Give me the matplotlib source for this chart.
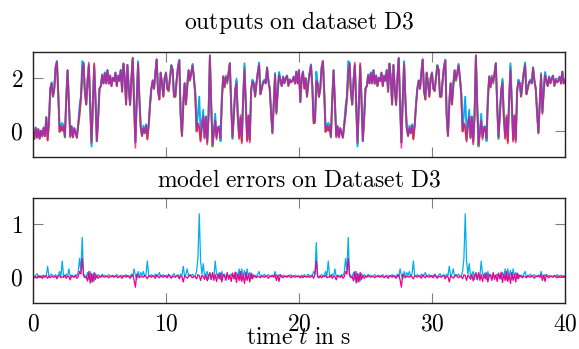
import numpy as np
import matplotlib
matplotlib.use("Agg")
import matplotlib.pyplot as plt
from matplotlib.ticker import FuncFormatter, FixedLocator

plt.rcParams["mathtext.fontset"] = "cm"
plt.rcParams["font.family"] = "DejaVu Serif"

# ---------------- data (sampled every 0.1 s) ----------------
dt = 0.1
n_samples = 401  # 0 ... 40 s

# true output: initial 1.2 s of the first period (t = 0.0 .. 1.1)
y_start = [0.05, -0.3, 0.1, -0.25, 0.05, -0.3, 0.0, -0.2, 0.1, -0.2, 0.5, -0.35]
# true output, one 20 s period from t = 1.2 .. 19.9
y_period = [
    0.3, 1.6, 1.8, 1.3, 1.6, 2.4, 2.65, 1.4,
    -0.05, 0.2, 0.0, 0.2, -0.25, 1.2, 2.3, 1.0, -0.2, 0.15,
    -0.25, 0.1, -0.1, -0.25, 0.2, 0.6, 1.2, 1.9, 2.55, 1.5,
    1.0, 1.9, 2.5, 1.0, -0.5, 1.0, 2.5, 1.2, -0.4, 0.5,
    1.6, 1.7, 2.1, 1.8, 2.2, 1.8, 2.3, 1.8, 2.1, 1.7,
    2.0, 1.9, 2.2, 1.7, 2.1, 1.9, 2.3, 1.5, 2.55, 2.0,
    1.0, 2.5, 1.6, 1.0, 2.0, 2.75, 1.0, -0.45, 1.2, 2.55,
    1.2, 0.1, -0.2, 0.1, -0.1, 0.2, -0.3, 0.2, 1.0, 1.6,
    1.9, 1.6, 2.2, 2.7, 1.5, 1.2, 2.2, 1.8, 1.3, 2.0,
    2.2, 1.6, 1.5, 2.0, 2.5, 2.3, 1.3, 1.3, 1.9, 2.4,
    2.7, 0.6, -0.2, 1.0, 1.8, 1.0, 1.7, 2.3, 1.9, 2.2,
    2.5, 2.0, 1.4, 0.0, 0.25, 0.1, -0.35, 0.2, 0.55, -0.25,
    0.5, -0.45, 0.6, 2.8, 1.0, -0.6, 0.0, 0.35, -0.25, 0.1,
    0.1, -0.35, 1.2, 2.05, 1.65, 2.1, 1.8, 2.2, 2.55, 1.0,
    -0.3, 0.6, 1.5, 1.9, 0.5, -0.25, 0.5, -0.4, 1.2, 2.45,
    1.0, -0.35, 0.55, -0.35, 1.5, 1.9, 1.8, 1.3, 1.8, 2.2,
    2.5, 1.4, 1.6, 1.85, 1.9, 1.8, 2.4, 1.9, 1.6, 0.7,
    -0.1, 1.0, 2.1, 0.7, 1.5, 2.2, 1.9, 1.7, 2.05, 1.8,
    2.0, 2.1, 1.7, 1.95, 1.85, 1.9, 2.05, 1.8, 2.25, 1.8,
]
# true output at the start of the second period (t = 20.0 .. 21.1)
y_restart = [2.3, 1.1, 2.0, 2.25, 1.6, 2.0, 1.3, 1.8, 2.2, 2.5, 1.7, 0.3]
y_end = [1.9]

# model error (cyan model), one period t = 0.0 .. 19.9
err_cyan_period = [
    0.02, 0.0, 0.03, 0.06, 0.01, 0.02, 0.0, 0.02, 0.03, 0.01,
    0.02, 0.2, 0.0, 0.03, 0.05, 0.0, 0.02, 0.04, 0.0, 0.03,
    0.1, 0.02, 0.3, 0.0, 0.02, 0.05, 0.0, 0.15, 0.0, 0.03,
    0.02, 0.0, 0.04, 0.02, 0.08, 0.35, 0.1, 0.75, 0.05, 0.02,
    0.0, 0.08, -0.05, 0.1, -0.1, 0.05, -0.08, 0.06, 0.0, 0.04,
    0.02, 0.0, 0.05, 0.01, 0.03, 0.0, 0.02, 0.04, 0.0, 0.02,
    0.03, 0.0, 0.02, 0.04, 0.01, 0.0, 0.03, 0.02, 0.0, 0.02,
    0.04, 0.0, 0.02, 0.0, 0.05, 0.0, 0.15, 0.02, -0.05, 0.1,
    0.0, 0.08, 0.02, 0.1, 0.0, 0.05, 0.3, 0.02, 0.0, 0.04,
    0.02, 0.0, 0.05, 0.0, 0.03, 0.08, 0.0, 0.02, 0.04, 0.0,
    0.03, 0.0, 0.05, 0.02, 0.0, 0.03, 0.06, 0.0, 0.02, 0.04,
    0.0, 0.05, 0.02, 0.2, 0.0, 0.05, 0.15, 0.0, 0.03, 0.02,
    0.05, 0.0, 0.02, 0.1, 0.35, 1.2, 0.3, 0.05, 0.25, 0.0,
    0.05, 0.1, -0.05, 0.08, -0.06, 0.05, 0.0, 0.3, 0.05, 0.0,
    0.08, -0.05, 0.1, 0.0, 0.05, -0.04, 0.06, 0.0, 0.03, 0.05,
    0.0, 0.03, -0.05, 0.08, 0.0, 0.15, -0.06, 0.15, 0.0, 0.12,
    -0.05, 0.15, 0.0, 0.08, -0.04, 0.05, 0.0, 0.03, 0.0, 0.05,
    0.1, 0.0, 0.03, 0.02, 0.05, 0.0, 0.02, 0.04, 0.0, 0.02,
    0.03, 0.0, 0.1, 0.02, 0.0, 0.04, 0.02, 0.0, 0.03, 0.01,
    0.02, 0.0, 0.03, 0.01, 0.04, 0.0, 0.02, 0.03, 0.0, 0.02,
]
# model error (magenta model), one period t = 0.0 .. 19.9
err_mag_period = [
    0.0, -0.02, 0.01, -0.03, 0.02, -0.01, 0.01, -0.03, 0.01, -0.01,
    0.02, -0.03, 0.01, -0.02, 0.01, 0.0, -0.01, 0.01, -0.04, 0.01,
    0.03, -0.02, 0.0, -0.01, 0.03, -0.03, 0.01, 0.0, -0.06, 0.02,
    0.0, -0.01, 0.02, -0.03, 0.0, 0.1, 0.05, 0.35, 0.02, -0.02,
    0.0, -0.08, 0.1, -0.12, 0.06, -0.1, 0.08, -0.05, 0.02, -0.03,
    0.01, -0.01, 0.02, 0.0, -0.01, 0.01, 0.0, -0.02, 0.01, 0.0,
    0.01, -0.01, 0.02, 0.0, -0.02, 0.01, 0.0, -0.03, 0.02, 0.01,
    -0.01, 0.02, 0.0, -0.03, 0.01, 0.04, -0.06, -0.2, 0.05, 0.01,
    -0.02, 0.01, 0.0, -0.01, 0.03, 0.0, -0.04, 0.02, 0.01, -0.01,
    0.02, 0.0, -0.03, 0.04, 0.0, -0.02, 0.03, 0.0, -0.01, 0.02,
    0.0, -0.02, 0.04, 0.0, -0.03, 0.01, 0.0, -0.01, 0.02, 0.01,
    -0.04, 0.01, 0.0, -0.1, 0.02, 0.0, -0.03, 0.01, 0.04, 0.0,
    -0.02, 0.01, 0.0, -0.04, 0.04, 0.02, -0.07, 0.03, 0.0, -0.05,
    0.04, -0.08, 0.03, 0.07, -0.05, 0.08, -0.07, 0.04, -0.09, 0.05,
    -0.04, 0.07, -0.1, 0.04, 0.02, -0.07, 0.08, -0.05, 0.03, -0.09,
    0.07, -0.04, 0.09, -0.11, 0.05, -0.07, 0.1, -0.09, 0.04, -0.13,
    0.08, -0.07, 0.05, -0.1, 0.07, -0.04, 0.03, 0.0, -0.02, 0.01,
    0.0, -0.02, 0.01, 0.0, -0.01, 0.02, 0.0, -0.03, 0.01, 0.0,
    0.02, -0.01, 0.04, -0.07, 0.03, -0.09, 0.04, 0.0, -0.02, 0.01,
    0.0, -0.01, 0.02, 0.0, -0.02, 0.01, 0.0, -0.01, 0.01, 0.0,
]
# errors at the start of the second period (t = 20.0 .. 21.9)
err_cyan_restart = [0.02, 0.0, 0.03, 0.01, 0.04, 0.0, 0.02, 0.05, 0.0, 0.03,
                    0.02, 0.1, 0.05, 0.65, 0.02, 0.0, 0.02, 0.04, 0.0, 0.03]
err_mag_restart = [0.0, -0.02, 0.01, -0.02, 0.01, 0.0, -0.01, 0.01, -0.01, 0.0,
                   0.02, -0.03, 0.05, 0.3, 0.0, -0.02, 0.01, -0.02, 0.01, 0.0]
err_cyan_end = [0.02]
err_mag_end = [0.0]

x_ticks = [0, 10, 20, 30, 40]
y_ticks_out = [0, 2]
y_ticks_err = [0, 1]

# ---------------- assemble series ----------------
t = np.arange(n_samples) * dt
y_true = np.array(y_start + y_period + y_restart + y_period + y_end)
err_cyan = np.array(err_cyan_period + err_cyan_restart + err_cyan_period[20:] + err_cyan_end)
err_mag = np.array(err_mag_period + err_mag_restart + err_mag_period[20:] + err_mag_end)
y_cyan = y_true + err_cyan
y_mag = y_true + err_mag

OLIVE = "#9e9800"
CYAN = "#00aeef"
MAG = "#ec008c"

W, H = 579, 349
fig = plt.figure(figsize=(W / 100, H / 100), dpi=100)
ax1 = fig.add_axes([33 / W, 1 - 157 / H, 532 / W, 105 / H])
ax2 = fig.add_axes([33 / W, 1 - 303 / H, 532 / W, 105 / H])

ax1.plot(t, y_true, color=OLIVE, lw=1.5)
ax1.plot(t, y_cyan, color=CYAN, lw=1.3)
ax1.plot(t, y_mag, color=MAG, lw=1.2, alpha=0.75)

ax2.plot(t, err_cyan, color=CYAN, lw=0.9)
ax2.plot(t, err_mag, color=MAG, lw=0.9)

fmt = FuncFormatter(lambda v, p: r"$%d$" % round(v))
for ax in (ax1, ax2):
    ax.set_xlim(0, 40)
    ax.xaxis.set_major_locator(FixedLocator(x_ticks))
    ax.xaxis.set_major_formatter(fmt)
    ax.yaxis.set_major_formatter(fmt)
    ax.tick_params(direction="in", top=True, right=True, length=7, width=0.8,
                   color="#808080", labelsize=17, pad=7)
    for s in ax.spines.values():
        s.set_linewidth(1.0)
        s.set_color("#222222")

ax1.set_ylim(-1, 3)
ax1.yaxis.set_major_locator(FixedLocator(y_ticks_out))
ax1.tick_params(labelbottom=False)
ax2.set_ylim(-0.5, 1.5)
ax2.yaxis.set_major_locator(FixedLocator(y_ticks_err))

fig.text(299 / W, 1 - 22 / H, r"$\mathrm{outputs\ on\ dataset\ D3}$",
         ha="center", va="center", fontsize=17)
fig.text(299 / W, 1 - 180 / H, r"$\mathrm{model\ errors\ on\ Dataset\ D3}$",
         ha="center", va="center", fontsize=17)
fig.text(299 / W, 1 - 338 / H, r"$\mathrm{time}\ t\ \mathrm{in\ s}$",
         ha="center", va="center", fontsize=17)

fig.savefig("out.png", dpi=100)
